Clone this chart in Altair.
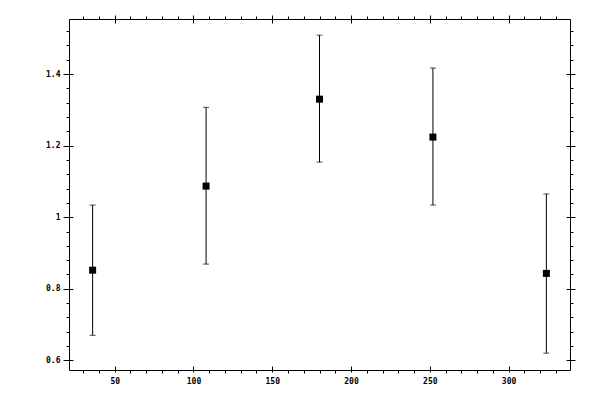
import altair as alt
import pandas as pd

angles = [36, 108, 180, 252, 324]
means = [0.852, 1.087, 1.330, 1.224, 0.843]
lower = [0.670, 0.869, 1.154, 1.034, 0.620]
upper = [1.034, 1.307, 1.509, 1.417, 1.065]

x_major = [50, 100, 150, 200, 250, 300]
x_minor = [30, 40, 60, 70, 80, 90, 110, 120, 130, 140, 160, 170, 180, 190,
           210, 220, 230, 240, 260, 270, 280, 290, 310, 320, 330]
y_major = [0.6, 0.8, 1.0, 1.2, 1.4]
y_minor = [0.64, 0.68, 0.72, 0.76, 0.84, 0.88, 0.92, 0.96, 1.04, 1.08, 1.12,
           1.16, 1.24, 1.28, 1.32, 1.36, 1.44, 1.48, 1.52]

df = pd.DataFrame({"angle": angles, "mean": means, "lo": lower, "hi": upper})

XD = [21, 339]
YD = [0.573, 1.554]
FONT = "DejaVu Sans Mono"


def label_axis(orient, values, pad, expr):
    return alt.Axis(orient=orient, values=values, ticks=False, tickSize=0, domain=False,
                    grid=False, labelPadding=pad, labelFont=FONT, labelFontSize=8,
                    labelFontWeight="bold", labelColor="black", labelExpr=expr, title=None)


def tick_axis(orient, values, size, offset, domain=False):
    return alt.Axis(orient=orient, values=values, ticks=True, tickSize=size, tickColor="black",
                    tickWidth=1, domain=domain, domainColor="black", domainWidth=1,
                    grid=False, labels=False, offset=offset, title=None)


xs = lambda: alt.Scale(domain=XD, nice=False, zero=False)
ys = lambda: alt.Scale(domain=YD, nice=False, zero=False)

xlab_expr = "format(datum.value, 'd')"
ylab_expr = "datum.value == 1 ? '1' : format(datum.value, '.1f')"

bars = alt.Chart(df).mark_rule(color="black", strokeWidth=1).encode(
    x=alt.X("angle:Q", scale=xs(), axis=label_axis("bottom", x_major, 7, xlab_expr)),
    y=alt.Y("lo:Q", scale=ys(), axis=label_axis("left", y_major, 9, ylab_expr)),
    y2="hi:Q",
)

squares = alt.Chart(df).mark_square(color="black", size=49, opacity=1).encode(
    x=alt.X("angle:Q", scale=xs(), axis=tick_axis("bottom", x_major, 6, -4)),
    y=alt.Y("mean:Q", scale=ys(), axis=tick_axis("left", y_major, 10, -4)),
)

caps_hi = alt.Chart(df).mark_tick(color="black", orient="horizontal", size=6, thickness=1).encode(
    x=alt.X("angle:Q", scale=xs(), axis=tick_axis("bottom", x_minor, 3, 0, True)),
    y=alt.Y("hi:Q", scale=ys(), axis=tick_axis("left", y_minor, 3, 0, True)),
)

caps_lo = alt.Chart(df).mark_tick(color="black", orient="horizontal", size=6, thickness=1).encode(
    x=alt.X("angle:Q", scale=xs(), axis=tick_axis("top", x_major, 8, -4)),
    y=alt.Y("lo:Q", scale=ys(), axis=tick_axis("right", y_major, 9, -4)),
)

ghost = alt.Chart(df).mark_point(opacity=0).encode(
    x=alt.X("angle:Q", scale=xs(), axis=tick_axis("top", x_minor, 3, 0, True)),
    y=alt.Y("mean:Q", scale=ys(), axis=tick_axis("right", y_minor, 3, 0, True)),
)

chart = alt.layer(bars, squares, caps_hi, caps_lo, ghost).resolve_axis(
    x="independent", y="independent"
).properties(
    width=501, height=351,
    autosize=alt.AutoSizeParams(type="none"),
    padding={"left": 61, "top": 11, "right": 20, "bottom": 20},
).configure_view(strokeWidth=0).configure(background="white")

chart.save("out.html", embed_options={"renderer": "svg", "actions": False})
